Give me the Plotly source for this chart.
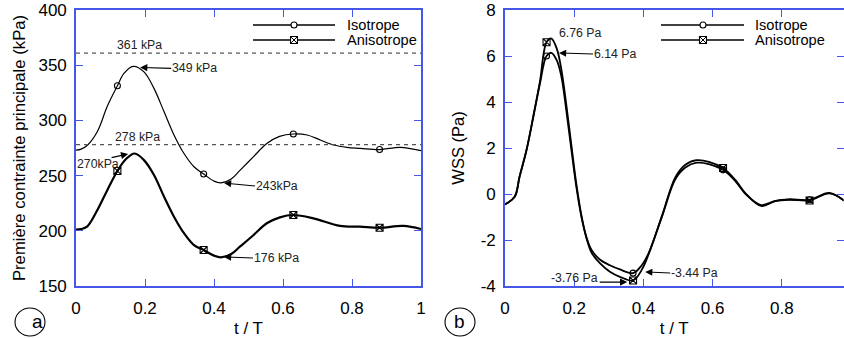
import plotly.graph_objects as go

# ---------------- Panel (a): first principal stress (kPa) ----------------
t_iso_a = [0, 0.015, 0.033, 0.062, 0.091, 0.12, 0.139, 0.166, 0.197, 0.226, 0.255, 0.284,
           0.313, 0.342, 0.37, 0.40, 0.42, 0.45, 0.476, 0.514, 0.553, 0.59, 0.63, 0.67,
           0.708, 0.747, 0.785, 0.824, 0.88, 0.94, 1.0]
s_iso_a = [273, 274, 277.5, 290, 313, 331.4, 342.6, 349, 344, 329, 308, 286.8,
           270, 258, 251.4, 245, 243.5, 247, 255, 267, 279, 285.5, 287.7, 286.8,
           282.3, 277.7, 275.6, 274.7, 273.6, 275.6, 272.6]

t_ani_a = [0, 0.015, 0.033, 0.062, 0.091, 0.12, 0.145, 0.17, 0.197, 0.226, 0.255, 0.284,
           0.313, 0.342, 0.37, 0.40, 0.42, 0.45, 0.475, 0.514, 0.553, 0.591, 0.63, 0.688,
           0.765, 0.823, 0.88, 0.949, 1.0]
s_ani_a = [201, 201.5, 204, 218.8, 237, 254.2, 265, 270, 264, 250.5, 231, 212.8,
           197.8, 187, 182.6, 177.5, 176, 179, 185.6, 196, 206.8, 212.2, 214.3, 211.3,
           204.4, 203.7, 202.8, 204.4, 201.6]

mk_t_a = [0.12, 0.37, 0.63, 0.88]
mk_iso_a = [331.4, 251.4, 287.7, 273.6]
mk_ani_a = [254.2, 182.6, 214.3, 202.8]

ref_levels_a = [361, 278]
ref_labels_a = ["361 kPa", "278 kPa"]

# ---------------- Panel (b): WSS (Pa) ----------------
t_b = [0, 0.028, 0.042, 0.062, 0.082, 0.101, 0.12, 0.134, 0.150, 0.163, 0.177, 0.192,
       0.206, 0.221, 0.235, 0.25, 0.274, 0.303, 0.332, 0.37, 0.395, 0.415, 0.454, 0.492,
       0.521, 0.554, 0.589, 0.63, 0.666, 0.695, 0.74, 0.781, 0.82, 0.88, 0.937, 0.98]
w_iso_b = [-0.45, -0.12, 0.75, 1.9, 3.36, 4.8, 6.0, 6.14, 5.8, 5.1, 3.65, 1.9,
           0.32, -1.0, -1.86, -2.43, -2.85, -3.1, -3.28, -3.44, -3.1, -2.57, -0.96, 0.64,
           1.15, 1.36, 1.3, 1.05, 0.55, 0.0, -0.48, -0.3, -0.23, -0.25, 0.05, -0.3]
w_ani_b = [-0.45, -0.12, 0.75, 1.9, 3.4, 4.9, 6.6, 6.76, 6.3, 5.4, 3.9, 2.1,
           0.45, -0.95, -1.9, -2.55, -3.01, -3.38, -3.6, -3.76, -3.3, -2.62, -0.93, 0.72,
           1.27, 1.47, 1.4, 1.13, 0.6, 0.03, -0.52, -0.31, -0.25, -0.28, 0.03, -0.28]

mk_t_b = [0.12, 0.37, 0.63, 0.88]
mk_iso_b = [6.0, -3.44, 1.05, -0.25]
mk_ani_b = [6.6, -3.76, 1.13, -0.28]

series_names = ["Isotrope", "Anisotrope"]

x_ticks_a = [0, 0.2, 0.4, 0.6, 0.8, 1]
x_ticks_b = [0, 0.2, 0.4, 0.6, 0.8]
y_ticks_a = [150, 200, 250, 300, 350, 400]
y_ticks_b = [-4, -2, 0, 2, 4, 6, 8]

W, H = 844, 338
FONT = "Liberation Sans, Arial, Helvetica, sans-serif"
FRAME = "#4656e6"


def px(x):
    return x / W


def py(y):
    return 1 - y / H


fig = go.Figure()

# panel a curves
fig.add_trace(go.Scatter(x=t_iso_a, y=s_iso_a, mode="lines", line=dict(color="black", width=1.2, shape="spline"),
                         xaxis="x", yaxis="y", showlegend=False, hoverinfo="skip"))
fig.add_trace(go.Scatter(x=t_ani_a, y=s_ani_a, mode="lines", line=dict(color="black", width=2.2, shape="spline"),
                         xaxis="x", yaxis="y", showlegend=False, hoverinfo="skip"))
fig.add_trace(go.Scatter(x=mk_t_a, y=mk_iso_a, mode="markers", name=series_names[0],
                         marker=dict(symbol="circle-open", size=6, color="black", line=dict(width=1.1)),
                         xaxis="x", yaxis="y", showlegend=False))
fig.add_trace(go.Scatter(x=mk_t_a, y=mk_ani_a, mode="markers", name=series_names[1],
                         marker=dict(symbol="square-x-open", size=7, color="black", line=dict(width=1.1)),
                         xaxis="x", yaxis="y", showlegend=False))

# panel b curves
fig.add_trace(go.Scatter(x=t_b, y=w_iso_b, mode="lines", line=dict(color="black", width=1.8, shape="spline"),
                         xaxis="x2", yaxis="y2", showlegend=False, hoverinfo="skip"))
fig.add_trace(go.Scatter(x=t_b, y=w_ani_b, mode="lines", line=dict(color="black", width=1.8, shape="spline"),
                         xaxis="x2", yaxis="y2", showlegend=False, hoverinfo="skip"))
fig.add_trace(go.Scatter(x=mk_t_b, y=mk_iso_b, mode="markers", name=series_names[0],
                         marker=dict(symbol="circle-open", size=6, color="black", line=dict(width=1.1)),
                         xaxis="x2", yaxis="y2", showlegend=False))
fig.add_trace(go.Scatter(x=mk_t_b, y=mk_ani_b, mode="markers", name=series_names[1],
                         marker=dict(symbol="square-x-open", size=7, color="black", line=dict(width=1.1)),
                         xaxis="x2", yaxis="y2", showlegend=False))

shapes = []
# reference dashed lines (panel a)
for lvl in ref_levels_a:
    shapes.append(dict(type="line", xref="x domain", yref="y", x0=0, x1=1, y0=lvl, y1=lvl,
                       line=dict(color="#555555", width=1.2, dash="4px,4px")))

annotations = []
afont = dict(family=FONT, size=12.3, color="#222222")

for lvl, lab, xt in zip(ref_levels_a, ref_labels_a, [0.184, 0.177]):
    annotations.append(dict(x=xt, y=lvl, xref="x", yref="y", text=lab, showarrow=False,
                            yanchor="bottom", yshift=-1, font=afont))


def arrow_note(xref, yref, x, y, text, ax, ay, anchor="left"):
    annotations.append(dict(x=x, y=y, xref=xref, yref=yref, text=text, showarrow=True,
                            ax=ax, ay=ay, axref="pixel", ayref="pixel", xanchor=anchor,
                            arrowhead=2, arrowsize=1.3, arrowwidth=1.1, arrowcolor="black",
                            standoff=0, startstandoff=0, borderpad=0, font=afont))


# panel a arrows
arrow_note("x", "y", 0.186, 348, "349 kPa", 31, 1)
arrow_note("x", "y", 0.429, 243.3, "243kPa", 31, 3)
arrow_note("x", "y", 0.429, 176.3, "176 kPa", 29, 1)
annotations.append(dict(x=0.151, y=269.6, xref="x", yref="y", text="", showarrow=True,
                        ax=-18, ay=4, arrowhead=2, arrowsize=1.3, arrowwidth=1.1, arrowcolor="black"))
annotations.append(dict(x=0.065, y=260.5, xref="x", yref="y", text="270kPa", showarrow=False, font=afont))

# panel b arrows
annotations.append(dict(x=0.217, y=7.0, xref="x2", yref="y2", text="6.76 Pa", showarrow=False, font=afont))
arrow_note("x2", "y2", 0.156, 6.13, "6.14 Pa", 34, 1)
arrow_note("x2", "y2", 0.405, -3.39, "-3.44 Pa", 25, 1)
annotations.append(dict(x=0.353, y=-3.83, xref="x2", yref="y2", text="", showarrow=True,
                        ax=-29, ay=0, arrowhead=2, arrowsize=1.3, arrowwidth=1.1, arrowcolor="black"))
annotations.append(dict(x=0.2746, y=-3.65, xref="x2", yref="y2", text="-3.76 Pa", xanchor="right",
                        showarrow=False, font=afont))

# custom legends
lfont = dict(family=FONT, size=14.6, color="black")
for (x0, x1, xm, xt) in [(253, 335, 294, 345), (661, 744, 703, 753)]:
    for i, yy in enumerate([25, 40]):
        shapes.append(dict(type="line", xref="paper", yref="paper", x0=px(x0), x1=px(x1),
                           y0=py(yy), y1=py(yy), line=dict(color="black", width=1.3)))
        annotations.append(dict(x=px(xt), y=py(yy), xref="paper", yref="paper", text=series_names[i],
                                xanchor="left", yanchor="middle", showarrow=False, font=lfont))
    # circle marker glyph
    shapes.append(dict(type="circle", xref="paper", yref="paper", x0=px(xm - 3), x1=px(xm + 3),
                       y0=py(25 - 3), y1=py(25 + 3), fillcolor="white", line=dict(color="black", width=1.1)))
    # square with cross glyph
    shapes.append(dict(type="rect", xref="paper", yref="paper", x0=px(xm - 3.5), x1=px(xm + 3.5),
                       y0=py(40 - 3.5), y1=py(40 + 3.5), fillcolor="white", line=dict(color="black", width=1.1)))
    shapes.append(dict(type="path", xref="paper", yref="paper",
                       path=f"M{px(xm-3.5)},{py(40-3.5)} L{px(xm+3.5)},{py(40+3.5)} M{px(xm-3.5)},{py(40+3.5)} L{px(xm+3.5)},{py(40-3.5)}",
                       line=dict(color="black", width=1)))

# circled panel letters
for cx, letter in [(30, "a"), (460, "b")]:
    shapes.append(dict(type="circle", xref="paper", yref="paper", x0=px(cx - 15), x1=px(cx + 15),
                       y0=py(322 + 14), y1=py(322 - 14), line=dict(color="black", width=1.1)))
    annotations.append(dict(x=px(cx), y=py(321), xref="paper", yref="paper", text=letter, showarrow=False,
                            yanchor="middle", font=dict(family=FONT, size=19, color="black")))

tfont = dict(family=FONT, size=17, color="black")
axis_common = dict(showline=True, linecolor=FRAME, linewidth=1.6, mirror="ticks", ticks="inside",
                   ticklen=7, tickwidth=1.4, tickcolor=FRAME, showgrid=False, zeroline=False,
                   tickfont=tfont, automargin=False)

fig.update_layout(
    width=W, height=H, autosize=False,
    margin=dict(l=0, r=0, t=0, b=0, pad=0, autoexpand=False),
    paper_bgcolor="white", plot_bgcolor="white",
    font=dict(family=FONT, color="black"),
    xaxis=dict(domain=[px(76), px(421)], range=[0, 1], tickvals=x_ticks_a,
               ticktext=[f"{v:g}" for v in x_ticks_a], ticklabelstandoff=6,
               title=dict(text="t / T", font=dict(family=FONT, size=17), standoff=5), anchor="y", **axis_common),
    yaxis=dict(domain=[py(286), py(10)], range=[150, 400], tickvals=y_ticks_a,
               ticktext=[f"{v:g}" for v in y_ticks_a], ticklabelstandoff=4,
               title=dict(text="Première contrainte principale (kPa)", font=dict(family=FONT, size=16.7), standoff=9),
               anchor="x", **axis_common),
    xaxis2=dict(domain=[px(505), px(843.5)], range=[0, 0.978], tickvals=x_ticks_b,
                ticktext=[f"{v:g}" for v in x_ticks_b], ticklabelstandoff=6,
                title=dict(text="t / T", font=dict(family=FONT, size=17), standoff=5), anchor="y2", **axis_common),
    yaxis2=dict(domain=[py(286), py(10)], range=[-4, 8], tickvals=y_ticks_b,
                ticktext=[f"{v:g}" for v in y_ticks_b], ticklabelstandoff=4,
                title=dict(text="WSS (Pa)", font=dict(family=FONT, size=16.5), standoff=12),
                anchor="x2", **axis_common),
    shapes=shapes,
    annotations=annotations,
)

fig.write_html("out.html", config={"displayModeBar": False},
               post_script="document.body.style.margin='0px';document.body.style.overflow='hidden';")
